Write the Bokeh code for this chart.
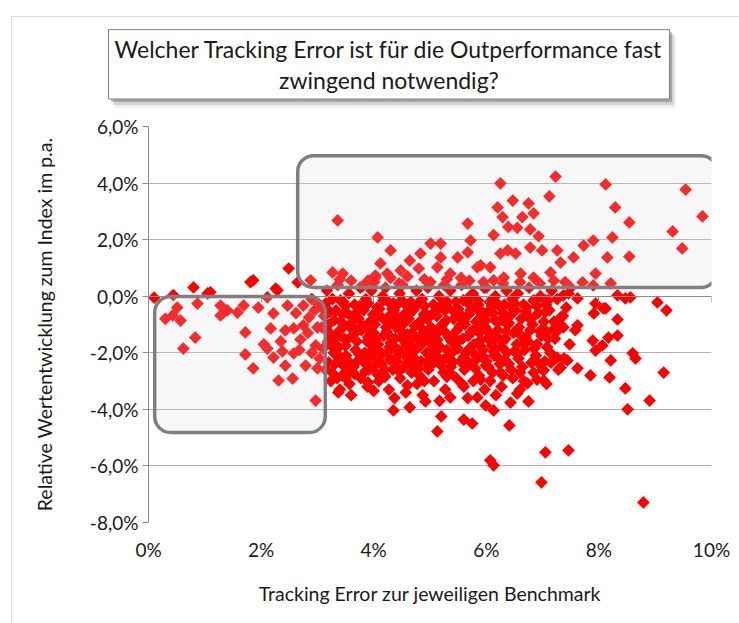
import numpy as np
from bokeh.plotting import figure
from bokeh.models import BoxAnnotation, LinearAxis, FixedTicker, CustomJSTickFormatter, Title
from bokeh.embed import file_html
from bokeh.resources import INLINE

FONT = "Lato"

# ---- data: (tracking error in %, relative performance in % p.a.) ----
left_points = [
    (0.44, 0.04), (0.10, -0.05), (0.43, -0.68), (0.57, -0.86), (0.51, -0.40), (0.30, -0.80),
    (0.83, -1.46), (0.62, -1.85), (0.87, -0.26), (0.80, 0.31), (1.10, 0.14), (1.28, -0.33),
    (1.28, -0.68), (1.58, -0.58), (1.69, -0.33), (1.95, -0.40), (1.72, -1.28), (1.72, -2.06),
    (1.86, -2.55), (1.81, 0.50), (1.86, 0.56), (2.22, -0.61), (2.17, -1.14), (2.43, -1.21),
    (2.58, -1.14), (2.75, -1.03), (2.70, -1.53), (2.11, -1.85), (2.22, -2.17), (2.43, -2.45),
    (2.31, -2.98), (2.56, -2.91), (2.79, -2.45), (2.58, -2.02), (2.97, -3.69), (2.97, -1.74),
    (3.00, -2.55), (2.47, -0.33), (2.75, -0.33), (2.11, -0.04), (2.29, 0.21), (2.26, 0.27),
    (2.49, 0.98), (2.65, 0.49), (2.88, 0.56), (2.90, -0.10), (2.85, -0.75), (2.62, -0.60),
    (2.35, -1.60), (2.90, -2.00), (2.68, -1.90), (2.83, -1.30), (2.95, -0.50), (3.00, -1.10),
    (1.40, -0.50), (1.05, 0.10), (2.05, -1.70), (2.38, -1.95),
]

core_points = [
    (3.02, -0.3), (3.08, -1.1), (3.04, -2.2),
    (3.17, 0.2), (3.12, -0.7), (3.19, -1.6), (3.14, -2.6),
    (3.27, -0.1), (3.22, -1.3), (3.29, -2.0), (3.24, -3.0),
    (3.36, 0.4), (3.33, -0.5), (3.38, -1.8), (3.31, -2.4), (3.37, -3.4),
    (3.46, -0.2), (3.42, -0.9), (3.48, -1.5), (3.44, -2.8),
    (3.56, 0.1), (3.53, -0.6), (3.58, -1.1), (3.51, -2.1), (3.57, -3.1),
    (3.66, -0.3), (3.62, -1.4), (3.68, -1.9), (3.64, -2.5),
    (3.76, 0.3), (3.73, -0.8), (3.78, -1.2), (3.71, -2.3), (3.77, -2.9),
    (3.86, -0.1), (3.82, -0.5), (3.88, -1.6), (3.84, -2.0), (3.89, -3.2),
    (3.96, 0.2), (3.93, -0.9), (3.98, -1.3), (3.91, -2.6), (3.97, -1.9),
    (4.06, -0.4), (4.02, -1.0), (4.08, -1.7), (4.04, -2.2), (4.09, -3.0), (4.01, 0.5),
    (4.16, 0.0), (4.12, -0.7), (4.18, -1.4), (4.14, -2.4), (4.19, -2.8),
    (4.26, -0.2), (4.22, -1.1), (4.28, -1.8), (4.24, -2.0), (4.27, -3.3), (4.21, 0.3),
    (4.36, -0.5), (4.32, -0.9), (4.38, -1.5), (4.34, -2.6), (4.37, -3.6),
    (4.46, 0.1), (4.42, -0.3), (4.48, -1.2), (4.44, -1.9), (4.41, -2.3), (4.47, -2.9),
    (4.56, -0.6), (4.52, -1.0), (4.58, -1.7), (4.54, -2.5), (4.57, -3.4), (4.51, 0.4),
    (4.66, -0.2), (4.62, -0.8), (4.68, -1.3), (4.64, -2.1), (4.67, -2.7),
    (4.76, 0.2), (4.72, -0.4), (4.78, -1.5), (4.74, -1.9), (4.77, -3.1),
    (4.86, -0.1), (4.82, -0.9), (4.88, -1.2), (4.84, -2.3), (4.81, -2.8), (4.87, -3.5),
    (4.96, 0.3), (4.92, -0.6), (4.98, -1.6), (4.94, -2.0), (4.97, -2.6),
    (5.06, -0.3), (5.02, -1.1), (5.08, -1.4), (5.04, -2.4), (5.07, -3.0), (5.01, 0.5),
    (5.16, 0.0), (5.12, -0.7), (5.18, -1.8), (5.14, -2.2), (5.17, -3.7),
    (5.26, -0.5), (5.22, -1.0), (5.28, -1.3), (5.24, -2.7), (5.27, -3.3),
    (5.36, 0.2), (5.32, -0.4), (5.38, -1.6), (5.34, -2.1), (5.37, -2.5),
    (5.46, -0.2), (5.42, -0.8), (5.48, -1.2), (5.44, -1.9), (5.47, -2.9),
    (5.56, 0.4), (5.52, -0.6), (5.58, -1.5), (5.54, -2.3), (5.57, -3.1),
    (5.66, -0.1), (5.62, -1.0), (5.68, -1.4), (5.64, -2.0), (5.61, -2.6), (5.67, -3.6),
    (5.76, 0.1), (5.72, -0.5), (5.78, -1.7), (5.74, -2.4), (5.77, -3.0),
    (5.86, -0.3), (5.82, -0.9), (5.88, -1.3), (5.84, -2.2), (5.87, -2.8),
    (5.96, 0.3), (5.92, -0.7), (5.98, -1.1), (5.94, -1.9), (5.97, -3.3),
    (6.06, -0.2), (6.02, -1.2), (6.08, -1.6), (6.04, -2.5), (6.07, -3.0),
    (6.16, 0.0), (6.12, -0.6), (6.18, -1.4), (6.14, -2.1), (6.11, -2.7), (6.17, -3.5),
    (6.26, -0.4), (6.22, -0.9), (6.28, -1.8), (6.24, -2.4), (6.27, -3.2),
    (6.36, 0.2), (6.32, -0.3), (6.38, -1.0), (6.34, -1.5), (6.37, -2.0),
    (6.46, -0.1), (6.42, -0.7), (6.48, -1.3), (6.44, -2.6), (6.47, -2.9),
    (6.56, 0.1), (6.52, -0.5), (6.58, -1.1), (6.54, -1.7), (6.57, -2.2),
    (6.66, -0.3), (6.62, -0.8), (6.68, -1.9), (6.64, -2.5), (6.67, -3.0),
    (6.76, 0.3), (6.72, -0.4), (6.78, -1.2), (6.74, -1.6),
    (6.86, -0.2), (6.82, -1.0), (6.88, -2.1), (6.84, -2.7),
    (6.96, 0.0), (6.92, -0.6), (6.98, -1.4), (6.94, -2.4),
    (7.06, -0.3), (7.02, -0.9), (7.08, -1.8), (7.04, -2.3), (7.07, -3.1),
    (7.16, 0.2), (7.12, -0.5), (7.18, -1.2), (7.14, -2.0),
    (7.26, -0.1), (7.22, -1.5), (7.28, -2.6),
    (7.36, -0.7), (7.32, -1.1), (7.38, -2.2),
    (7.46, 0.1), (7.42, -0.4), (7.48, -1.7),
    (3.10, -0.45), (3.30, -0.85), (3.50, -0.35), (3.70, -0.55), (3.90, -0.25), (4.10, -0.45),
    (4.30, -0.65), (4.50, -0.15), (4.70, -0.50), (4.90, -0.35), (5.10, -0.55), (5.30, -0.20),
    (5.50, -0.45), (5.70, -0.30), (5.90, -0.50), (6.10, -0.35), (6.30, -0.60), (6.50, -0.25),
    (6.70, -0.55), (6.90, -0.35), (7.10, -0.15),
    (3.20, -1.00), (3.40, -1.20), (3.60, -0.95), (3.80, -1.05), (4.00, -1.30), (4.20, -0.85),
    (4.40, -1.10), (4.60, -1.35), (4.80, -0.95), (5.00, -1.20), (5.20, -1.05), (5.40, -1.40),
    (5.60, -0.90), (5.80, -1.15), (6.00, -0.85), (6.20, -1.20), (6.40, -0.95), (6.60, -1.35),
    (6.80, -0.80), (7.00, -1.15), (7.20, -0.90),
    (3.10, -1.85), (3.30, -1.55), (3.50, -1.75), (3.70, -1.60), (3.90, -1.45), (4.10, -1.95),
    (4.30, -1.65), (4.50, -1.50), (4.70, -1.80), (4.90, -1.55), (5.10, -1.70), (5.30, -1.90),
    (5.50, -1.60), (5.70, -1.85), (5.90, -1.55), (6.10, -1.75), (6.30, -1.60), (6.50, -1.95),
    (6.70, -1.45), (6.90, -1.70), (7.10, -1.50),
    (3.20, -2.35), (3.40, -2.15), (3.60, -2.50), (3.80, -2.25), (4.00, -2.45), (4.20, -2.60),
    (4.40, -2.15), (4.60, -2.35), (4.80, -2.55), (5.00, -2.25), (5.20, -2.45), (5.40, -2.30),
    (5.60, -2.15), (5.80, -2.55), (6.00, -2.30), (6.20, -2.15), (6.40, -2.40), (6.60, -2.70),
    (6.80, -2.35), (7.00, -2.60),
    (3.50, -2.90), (3.90, -3.05), (4.20, -2.85), (4.60, -3.15), (4.90, -3.00), (5.30, -2.85),
    (5.60, -3.20), (5.90, -2.95), (6.30, -2.80), (6.60, -3.30), (6.90, -2.95),
    (3.40, 0.60), (3.90, 0.55), (4.30, 0.65), (5.30, 0.60), (5.70, 0.55), (6.30, 0.45),
    (6.60, 0.50), (7.20, 0.55), (7.50, 0.30),
    (3.15, -0.25), (3.45, -0.65), (3.75, -0.35), (4.05, -0.75), (4.35, -0.25), (4.65, -0.60),
    (4.95, -0.80), (5.25, -0.25), (5.55, -0.75), (5.85, -0.15), (6.15, -0.85), (6.45, -0.40),
    (6.75, -0.75), (7.05, -0.55),
    (3.35, -1.35), (3.65, -1.15), (3.95, -1.70), (4.25, -1.35), (4.55, -1.85), (4.85, -1.40),
    (5.15, -1.25), (5.45, -1.65), (5.75, -1.25), (6.05, -1.45), (6.35, -1.25), (6.65, -1.65),
    (6.95, -1.25), (7.25, -1.25),
    (3.25, -1.75), (3.55, -2.30), (3.85, -2.65), (4.15, -2.05), (4.45, -2.65), (4.75, -2.25),
    (5.05, -1.85), (5.35, -2.70), (5.65, -2.40), (5.95, -2.15), (6.25, -2.70), (6.55, -2.05),
    (6.85, -1.85), (7.15, -2.35),
]

core_fill_points = [
    (3.22, -0.55), (3.28, -1.45), (3.34, -2.05), (3.41, -0.15), (3.47, -1.05), (3.52, -1.55),
    (3.58, -2.65), (3.63, -0.75), (3.69, -1.25), (3.74, -2.05), (3.81, -0.35), (3.87, -1.15),
    (3.92, -2.15), (3.99, -0.65), (4.04, -1.55), (4.11, -2.35), (4.17, -0.15), (4.23, -1.25),
    (4.29, -2.25), (4.33, -0.45), (4.39, -1.85), (4.43, -0.75), (4.49, -1.45), (4.53, -2.05),
    (4.59, -0.35), (4.63, -1.55), (4.69, -2.45), (4.73, -1.05), (4.79, -0.25), (4.83, -1.75),
    (4.89, -0.65), (4.93, -2.35), (4.99, -1.35), (5.03, -0.65), (5.09, -2.05), (5.13, -1.55),
    (5.19, -0.35), (5.23, -2.25), (5.29, -0.85), (5.33, -1.45), (5.39, -2.35), (5.43, -0.55),
    (5.49, -1.85), (5.53, -1.05), (5.59, -0.15), (5.63, -2.25), (5.69, -0.65), (5.73, -1.25),
    (5.79, -2.05), (5.83, -0.45), (5.89, -1.75), (5.93, -0.95), (5.99, -2.45), (6.03, -0.55),
    (6.09, -1.35), (6.13, -1.95), (6.19, -0.25), (6.23, -1.55), (6.29, -0.85), (6.33, -2.25),
    (3.16, -1.20), (3.26, -2.70), (3.46, -2.45), (3.66, -2.75), (3.86, -2.40), (4.06, -2.75),
]

upper_points = [
    (3.36, 2.68), (4.07, 2.08), (5.67, 2.57), (6.25, 3.99), (7.23, 4.23), (7.12, 3.53),
    (8.12, 3.95), (8.29, 3.14), (8.54, 2.61), (9.54, 3.77), (9.84, 2.82), (9.31, 2.29),
    (9.48, 1.69), (8.24, 2.08), (8.15, 1.37), (8.54, 1.40), (7.90, 1.97), (7.73, 1.79),
    (7.55, 1.37), (7.94, 0.80), (6.20, 3.14), (6.47, 3.38), (6.75, 3.28), (6.84, 2.93),
    (6.64, 2.80), (6.29, 2.80), (6.39, 2.45), (6.55, 2.42), (6.13, 2.16), (6.78, 2.36),
    (6.93, 2.12), (5.72, 1.97), (5.01, 1.86), (5.19, 1.86), (4.30, 1.62), (4.64, 1.26),
    (5.67, 1.55), (5.49, 1.37), (5.90, 1.09), (6.07, 1.02), (6.25, 1.51), (6.38, 1.62),
    (6.52, 1.51), (6.78, 1.72), (6.99, 1.62), (7.26, 1.62), (7.32, 1.19), (7.14, 0.84),
    (6.84, 0.66), (6.61, 0.80), (6.31, 0.66), (6.13, 0.56), (5.84, 1.02), (5.36, 0.80),
    (5.13, 1.02), (4.80, 0.98), (4.48, 0.91), (4.24, 0.80), (4.03, 0.66), (4.12, 1.16),
    (4.83, 1.51), (5.19, 1.37), (7.71, 0.49), (8.21, 0.45), (7.90, 0.38), (3.27, 0.84),
    (3.45, 0.80), (4.03, 0.73), (4.90, 0.60), (5.55, 0.65), (5.95, 0.50), (3.80, 0.35),
    (4.45, 0.45), (5.25, 0.40), (6.00, 0.30), (6.95, 0.45), (7.40, 0.50), (4.60, 0.70),
    (3.60, 0.55),
]

tail_points = [
    (6.07, -5.80), (6.13, -5.98), (7.05, -5.52), (7.46, -5.45), (6.98, -6.58), (8.79, -7.29),
    (9.04, -0.22), (9.20, -0.50), (8.56, -0.04), (8.33, 0.03), (8.33, -0.82), (8.08, -0.43),
    (7.91, -0.61), (8.33, -1.39), (8.17, -1.46), (8.06, -1.74), (7.94, -1.92), (7.89, -1.57),
    (8.60, -2.02), (8.65, -2.20), (9.15, -2.70), (8.21, -2.27), (8.19, -2.87), (7.85, -2.80),
    (7.62, -2.55), (8.47, -3.26), (8.90, -3.69), (8.51, -4.00), (7.44, -2.27), (7.32, -2.52),
    (7.26, -2.17), (7.02, -2.98), (6.75, -3.72), (6.43, -3.76), (6.41, -4.57), (6.13, -4.04),
    (5.75, -4.50), (5.60, -4.36), (5.13, -4.78), (5.20, -4.25), (4.92, -3.72), (4.64, -3.93),
    (4.35, -4.04), (5.36, -3.58), (5.84, -3.58), (5.99, -3.86), (6.55, -3.44), (6.73, -3.08),
    (7.02, -2.62), (7.58, -1.20), (7.62, -1.03), (7.32, -0.75), (7.37, -1.10), (7.05, -1.21),
    (6.84, -0.15), (7.05, -0.15), (7.37, 0.03), (7.62, -0.08), (7.94, -0.26), (8.12, -0.43),
    (8.47, -0.08), (3.40, -3.30), (3.60, -3.50), (4.00, -3.35), (3.35, -2.90),
]

x_ticks = [0, 2, 4, 6, 8, 10]
y_ticks = [-8, -6, -4, -2, 0, 2, 4, 6]
title_text = "Welcher Tracking Error ist für die Outperformance fast\nzwingend notwendig?"
x_label = "Tracking Error zur jeweiligen Benchmark"
y_label = "Relative Wertentwicklung zum Index im p.a."

# highlighted regions (data units)
upper_box = dict(left=2.65, right=10.1, bottom=0.31, top=4.97)
lower_box = dict(left=0.11, right=3.14, bottom=-4.82, top=-0.01)

pts = left_points + core_points + core_fill_points + upper_points + tail_points
te = [p_[0] for p_ in pts]
rel = [p_[1] for p_ in pts]

# light chart-area border (left/top edges) and the title box's drop shadow,
# painted as CSS background layers under the transparent canvas border area
chart_bg_css = ", ".join([
    "linear-gradient(#d9d9d9, #d9d9d9) 11px 16px / 1px 100% no-repeat",
    "linear-gradient(#d9d9d9, #d9d9d9) 11px 16px / 100% 1px no-repeat",
    "linear-gradient(rgba(0,0,0,0.22), rgba(0,0,0,0.22)) 111px 32px / 561px 70px no-repeat",
    "linear-gradient(rgba(0,0,0,0.12), rgba(0,0,0,0.12)) 113px 34px / 561px 71px no-repeat",
    "linear-gradient(rgba(0,0,0,0.06), rgba(0,0,0,0.06)) 115px 36px / 561px 72px no-repeat",
    "white",
])

p = figure(width=739, height=623, x_range=(0, 10), y_range=(-8, 6),
           output_backend="svg", toolbar_location=None,
           min_border_left=148, min_border_top=126, min_border_right=28, min_border_bottom=101,
           styles={"background": chart_bg_css})
p.background_fill_color = "white"
p.border_fill_color = None
p.outline_line_color = None

p.xgrid.visible = False
p.ygrid.ticker = FixedTicker(ticks=y_ticks)
p.ygrid.grid_line_color = "#b3b3b3"
p.ygrid.grid_line_width = 1

# y axis
ya = p.yaxis[0]
ya.ticker = FixedTicker(ticks=y_ticks)
ya.formatter = CustomJSTickFormatter(code="return tick.toFixed(1).replace('.', ',') + '%';")
ya.axis_line_color = "#8c8c8c"
ya.major_tick_line_color = "#8c8c8c"
ya.major_tick_out = 6
ya.major_tick_in = 0
ya.minor_tick_line_color = None
ya.major_label_text_font = FONT
ya.major_label_text_font_size = "19px"
ya.major_label_text_color = "#1a1a1a"
ya.major_label_standoff = 4
ya.axis_label = y_label
ya.axis_label_text_font = FONT
ya.axis_label_text_font_size = "19.5px"
ya.axis_label_text_font_style = "normal"
ya.axis_label_text_color = "#1a1a1a"
ya.axis_label_standoff = 31

# x axis (labels only, at bottom)
xa = p.xaxis[0]
xa.ticker = FixedTicker(ticks=x_ticks)
xa.formatter = CustomJSTickFormatter(code="return tick.toFixed(0) + '%';")
xa.axis_line_color = None
xa.major_tick_line_color = None
xa.minor_tick_line_color = None
xa.major_label_text_font = FONT
xa.major_label_text_font_size = "19px"
xa.major_label_text_color = "#1a1a1a"
xa.major_label_standoff = 9
xa.axis_label = x_label
xa.axis_label_text_font = FONT
xa.axis_label_text_font_size = "19.5px"
xa.axis_label_text_font_style = "normal"
xa.axis_label_text_color = "#1a1a1a"
xa.axis_label_standoff = 18

# horizontal axis line crossing at 0
x0 = LinearAxis(fixed_location=0, ticker=FixedTicker(ticks=x_ticks),
                formatter=CustomJSTickFormatter(code="return '';"))
x0.axis_line_color = "#8c8c8c"
x0.major_tick_line_color = "#8c8c8c"
x0.major_tick_out = 6
x0.major_tick_in = 0
x0.minor_tick_line_color = None
x0.major_label_text_font_size = "1px"
x0.major_label_standoff = 0
p.add_layout(x0, "below")

p.scatter(te, rel, marker="square", angle=np.pi / 4, size=9,
          fill_color="#ff0000", line_color=None)

for b in (upper_box, lower_box):
    p.add_layout(BoxAnnotation(**b, fill_color="#d6d6d6", fill_alpha=0.2,
                               line_color="#7f7f7f", line_alpha=1.0, line_width=3.5,
                               border_radius=16))

# boxed title
title = Title(text=title_text, align="left", offset=-40, standoff=55,
              text_font=FONT, text_font_size="23px", text_font_style="normal",
              text_color="#1a1a1a", text_line_height=1.12,
              background_fill_color="white", border_line_color="#7f7f7f",
              border_line_width=1,
              padding=dict(left=6, right=6, top=5, bottom=5))
if "text_align" in Title.properties():
    title.text_align = "center"
p.add_layout(title, "above")

open("out.html", "w").write(file_html(p, INLINE))
